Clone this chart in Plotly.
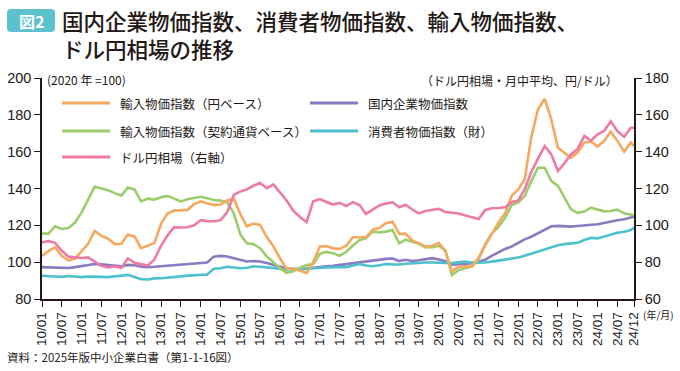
import plotly.graph_objects as go

# ---------------- data ----------------
# month offsets from 2010-01 (bimonthly readings + final month)
month_offsets = list(range(0, 180, 2)) + [179]
dates = [f"{2010 + m // 12}-{m % 12 + 1:02d}-01" for m in month_offsets]

import_yen = [103.4, 106, 108, 103.5, 101, 102, 106, 110, 117, 114.3,
              112.8, 109.8, 110, 115, 114, 107.6, 109, 110.5, 121, 126.4,
              128, 128.3, 128.4, 131.5, 133, 132, 131.1, 131.2, 133.5, 134.5,
              126, 119.5, 121, 120.2, 113.6, 108.5, 102, 96.5, 96.4, 95.5,
              94, 100, 108.5, 108.7, 107.5, 107.2, 109, 113.5, 113.6, 113.5,
              117.5, 118.5, 121.2, 122, 115.3, 115.5, 111.8, 110, 108.6, 108.8,
              110.5, 106, 95, 97.5, 97.8, 97.6, 102.5, 108.8, 115, 121.4,
              126.5, 136, 139.5, 145, 168, 182.9, 188.7, 177.5, 162.1, 159.4,
              156.7, 159.5, 164.9, 165.5, 162.8, 165.8, 170.8, 166, 160, 164.9,
              163]

import_contract = [115.5, 115.5, 119.5, 118, 118.5, 121.5, 127, 134, 141, 140,
                   139, 137.5, 136.1, 140.5, 139.5, 133, 134.5, 134, 135.3, 136,
                   134.5, 133, 134.2, 134.7, 135.5, 134.7, 133.8, 133.4, 132.5, 126.5,
                   115, 110.3, 109.8, 107.6, 103, 100, 96.7, 94.2, 95, 97,
                   98.4, 99, 104.5, 105.6, 104.9, 103.5, 105.5, 109, 112, 113,
                   116.5, 116.2, 116.6, 117.5, 110.2, 112.2, 111, 110, 108, 108.1,
                   108.9, 106.5, 93, 95.8, 96.7, 97.7, 101.5, 109.5, 115.5, 119,
                   124, 131, 132.5, 135.9, 144, 151.3, 151.3, 144, 141.4, 135,
                   128.7, 126.8, 127.5, 129.6, 128.5, 127.6, 127.8, 128.5, 126.5, 126,
                   125.5]

usd_jpy = [90.7, 91.5, 90.5, 86.3, 83, 82.5, 82.3, 82.6, 80.5, 78,
           77.2, 77.7, 77, 82, 79.7, 78.8, 78.2, 81.5, 89, 94.5,
           99, 98.8, 99, 100, 102.8, 102.3, 102.2, 102.8, 107, 116.5,
           118.4, 119.5, 121.5, 123, 120.2, 122.2, 118, 113.5, 108, 104.5,
           101.8, 113, 114.2, 112.6, 111.3, 112.2, 110.5, 112.6, 111, 106.2,
           108.7, 110.8, 111.8, 112.5, 109.8, 111.2, 108.6, 106.5, 107.8, 108.4,
           109, 107.2, 106.9, 106.4, 105.3, 104.2, 103.4, 108.2, 109.3, 109.4,
           109.8, 112.5, 113.5, 119.6, 129, 136.2, 143, 138.5, 129.5, 133.7,
           138.5, 141.5, 148.5, 146, 149.4, 151.2, 156.5, 151.2, 148, 153,
           153]

cgpi = [97.3, 97.2, 97.3, 97, 96.8, 97.3, 97.8, 98.6, 99, 98.8,
        98.4, 98, 97.7, 98.5, 98.3, 97.6, 97.3, 97.5, 97.8, 98.2,
        98.6, 99, 99.2, 99.5, 99.7, 99.8, 103, 103.4, 103.1, 102.2,
        101.3, 100.4, 100.6, 100.4, 99.5, 98.5, 97.5, 96.5, 96.3, 96.2,
        96.5, 97, 97.4, 97.8, 98, 98.5, 99, 99.4, 99.9, 100.5,
        100.9, 101.3, 101.8, 102, 100.6, 101.3, 100.6, 101, 101.5, 102.2,
        101.5, 100.5, 98.6, 98.9, 99.1, 99.5, 100.2, 101.3, 103.4, 105.2,
        107.2, 108.5, 110.5, 112.4, 113.8, 115.8, 117.5, 119.5, 119.7, 119.5,
        119.3, 119.6, 119.9, 120.1, 120.6, 121.3, 122.2, 122.8, 123.3, 124,
        124.7]

cpi_goods = [92.6, 92.6, 92.2, 92, 92.5, 92.2, 91.9, 92.2, 92.3, 92,
             91.9, 92.3, 92.6, 93.1, 92, 90.8, 90.6, 91.2, 91.3, 91.5,
             91.9, 92.3, 92.7, 93, 93.1, 93.3, 96.4, 96.7, 97.5, 97,
             96.7, 97, 97.7, 97.5, 97.2, 96.7, 96.3, 96.1, 96.2, 96.2,
             96.4, 96.7, 97, 97.2, 97.3, 97.3, 97.3, 98.2, 99, 98.2,
             97.8, 98.3, 99, 98.8, 98.7, 99.1, 99.4, 99.8, 99.8, 99.8,
             99.7, 99.6, 99.5, 99.9, 100.3, 99.7, 99.6, 99.9, 100.3, 100.8,
             101.6, 102.2, 102.5, 103.5, 104.6, 105.8, 107, 108, 109.2, 109.8,
             110.3, 110.5, 112, 113.2, 112.9, 113.8, 115, 116, 116.5, 117.4,
             118.8]

tick_labels = ["10/01", "10/07", "11/01", "11/07", "12/01", "12/07", "13/01", "13/07",
               "14/01", "14/07", "15/01", "15/07", "16/01", "16/07", "17/01", "17/07",
               "18/01", "18/07", "19/01", "19/07", "20/01", "20/07", "21/01", "21/07",
               "22/01", "22/07", "23/01", "23/07", "24/01", "24/07", "24/12"]
tick_dates = [f"20{t[:2]}-{t[3:]}-01" for t in tick_labels]

series_names = ["輸入物価指数（円ベース）", "国内企業物価指数", "輸入物価指数（契約通貨ベース）",
                "消費者物価指数（財）", "ドル円相場（右軸）"]

# ---------------- style ----------------
C_ORANGE = "#F5A85E"
C_PURPLE = "#8B79C2"
C_GREEN = "#9BCD6B"
C_CYAN = "#4CC0CE"
C_PINK = "#EE7AA6"
INK = "#231815"
JP = "Noto Sans CJK JP"
NUM = "Liberation Sans"

W, H = 680, 371
L, R, T, B = 42, 634, 78, 299


def px(x):
    return (x - L) / (R - L)


def py(y):
    return (B - y) / (B - T)


fig = go.Figure()
lw = 2.6
fig.add_trace(go.Scatter(x=dates, y=cgpi, mode="lines", name=series_names[1],
                         line=dict(color=C_PURPLE, width=lw)))
fig.add_trace(go.Scatter(x=dates, y=cpi_goods, mode="lines", name=series_names[3],
                         line=dict(color=C_CYAN, width=lw)))
fig.add_trace(go.Scatter(x=dates, y=import_contract, mode="lines", name=series_names[2],
                         line=dict(color=C_GREEN, width=lw)))
fig.add_trace(go.Scatter(x=dates, y=import_yen, mode="lines", name=series_names[0],
                         line=dict(color=C_ORANGE, width=lw)))
fig.add_trace(go.Scatter(x=dates, y=usd_jpy, mode="lines", name=series_names[4],
                         line=dict(color=C_PINK, width=lw), yaxis="y2"))

shapes = []
annotations = []


# title badge (rounded rectangle)
def rounded_rect(x0, y0, x1, y1, r):
    pts = []
    return (f"M {px(x0 + r)} {py(y0)} L {px(x1 - r)} {py(y0)} "
            f"Q {px(x1)} {py(y0)} {px(x1)} {py(y0 + r)} L {px(x1)} {py(y1 - r)} "
            f"Q {px(x1)} {py(y1)} {px(x1 - r)} {py(y1)} L {px(x0 + r)} {py(y1)} "
            f"Q {px(x0)} {py(y1)} {px(x0)} {py(y1 - r)} L {px(x0)} {py(y0 + r)} "
            f"Q {px(x0)} {py(y0)} {px(x0 + r)} {py(y0)} Z")


shapes.append(dict(type="path", xref="paper", yref="paper",
                   path=rounded_rect(7, 9, 55, 32, 4),
                   fillcolor="#5DC1CD", line=dict(width=0), layer="above"))
annotations.append(dict(text="<b>図2</b>", xref="paper", yref="paper", x=px(31), y=py(20.5),
                        xanchor="center", yanchor="middle", showarrow=False,
                        font=dict(family=JP, size=16, color="white")))
annotations.append(dict(text="国内企業物価指数、消費者物価指数、輸入物価指数、<br>ドル円相場の推移",
                        xref="paper", yref="paper", x=px(60), y=py(34),
                        xanchor="left", yanchor="middle", align="left", showarrow=False,
                        font=dict(family=JP, size=21.5, color=INK, weight=500)))

# unit notes
annotations.append(dict(text="(2020 年 =100)", xref="paper", yref="paper", x=px(45), y=py(79),
                        xanchor="left", yanchor="middle", showarrow=False,
                        font=dict(family=JP, size=12, color=INK)))
annotations.append(dict(text="（ドル円相場・月中平均、円/ドル）", xref="paper", yref="paper",
                        x=px(620), y=py(80), xanchor="right", yanchor="middle", showarrow=False,
                        font=dict(family=JP, size=12, color=INK)))
annotations.append(dict(text="(年/月)", xref="paper", yref="paper", x=px(641), y=py(314),
                        xanchor="left", yanchor="middle", showarrow=False,
                        font=dict(family=JP, size=10, color=INK)))
annotations.append(dict(text="資料：2025年版中小企業白書（第1-1-16図）", xref="paper", yref="paper",
                        x=px(5), y=py(357), xanchor="left", yanchor="middle", showarrow=False,
                        font=dict(family=JP, size=11.5, color=INK)))

# custom legend
legend_items = [
    (series_names[0], C_ORANGE, 62, 103),
    (series_names[1], C_PURPLE, 310, 103),
    (series_names[2], C_GREEN, 62, 131),
    (series_names[3], C_CYAN, 310, 131),
    (series_names[4], C_PINK, 62, 157),
]
for name, col, x0, y0 in legend_items:
    shapes.append(dict(type="line", xref="paper", yref="paper",
                       x0=px(x0), x1=px(x0 + 48), y0=py(y0), y1=py(y0),
                       line=dict(color=col, width=2.8)))
    annotations.append(dict(text=name, xref="paper", yref="paper", x=px(x0 + 56), y=py(y0),
                            xanchor="left", yanchor="middle", showarrow=False,
                            font=dict(family=JP, size=12.5, color=INK)))

axis_common = dict(showline=True, linecolor=INK, linewidth=1.5, ticks="outside",
                   tickcolor=INK, tickwidth=1.3, ticklen=6, showgrid=False, zeroline=False,
                   automargin=False)

fig.update_layout(
    width=W, height=H,
    margin=dict(l=L, r=W - R, t=T, b=H - B, pad=0),
    paper_bgcolor="white", plot_bgcolor="white",
    showlegend=False,
    shapes=shapes, annotations=annotations,
    xaxis=dict(type="date", range=["2010-01-01", "2024-12-01"],
               tickmode="array", tickvals=tick_dates, ticktext=tick_labels,
               tickangle=-90, tickfont=dict(family=NUM, size=13.5, color=INK),
               mirror=False, **axis_common),
    yaxis=dict(range=[80, 200], tickmode="linear", tick0=80, dtick=20,
               tickfont=dict(family=NUM, size=14.5, color=INK), **axis_common),
    yaxis2=dict(range=[60, 180], tickmode="linear", tick0=60, dtick=20, overlaying="y",
                side="right", tickfont=dict(family=NUM, size=14.5, color=INK), **axis_common),
)

fig.write_html("out.html", config={"displayModeBar": False},
               post_script="document.body.style.margin='0';document.body.style.padding='0';")
